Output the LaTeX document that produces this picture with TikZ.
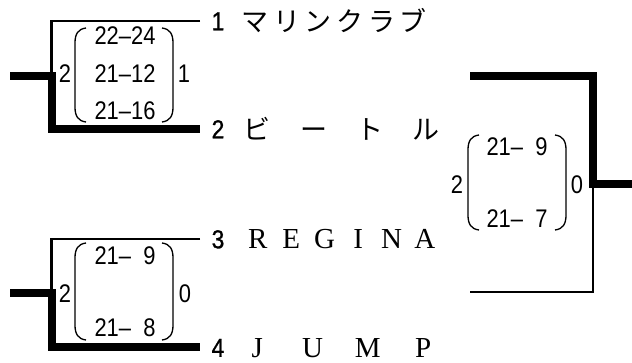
\documentclass[tikz,border=0pt]{standalone}
\usepackage{fontspec}
\newfontfamily\numf[FakeStretch=0.86]{Liberation Sans}
\newfontfamily\labf[FakeStretch=0.88,FakeBold=1]{Liberation Sans}
\newfontfamily\jpf{Noto Sans CJK JP}
\newfontfamily\latf{Liberation Serif}
\newlength\cw
\newcommand\cb[1]{\makebox[\cw][c]{#1}}
\newcommand\parenpair[4]{%
  \draw[paren] (#1+11,#3) .. controls (#1+3,#3+1) and (#1,#3+6) .. (#1,#3+15) -- (#1,#4-15) .. controls (#1,#4-6) and (#1+3,#4-1) .. (#1+11,#4);
  \draw[paren] (#2-11,#3) .. controls (#2-3,#3+1) and (#2,#3+6) .. (#2,#3+15) -- (#2,#4-15) .. controls (#2,#4-6) and (#2-3,#4-1) .. (#2-11,#4);
}
\begin{document}
\begin{tikzpicture}[x=1pt,y=-1pt,
 thinline/.style={line width=2.7pt},
 thickline/.style={line width=8pt},
 paren/.style={line width=1.3pt},
 score/.style={inner sep=0pt, anchor=base, font=\numf\fontsize{25.5}{28}\selectfont},
 seed/.style={inner sep=0pt, anchor=base, font=\labf\fontsize{26}{28}\selectfont},
 jname/.style={inner sep=0pt, anchor=base west, font=\jpf\fontsize{27}{30}\selectfont},
 lname/.style={inner sep=0pt, anchor=base west, font=\latf\fontsize{29}{32}\selectfont},
]
\useasboundingbox (0,0) rectangle (632,363);

% ---------- coordinates ----------
\coordinate (a1) at (200,21);
\coordinate (a2) at (200,129);
\coordinate (a3) at (200,239);
\coordinate (a4) at (200,347.5);
\coordinate (j1) at (51.5,21);
\coordinate (j2) at (51.5,129);
\coordinate (j3) at (51.5,239);
\coordinate (j4) at (51.5,347.5);
\coordinate (m1) at (51.5,76);
\coordinate (m2) at (51.5,293.5);
\coordinate (in1) at (10,76);
\coordinate (in2) at (10,293.5);
\coordinate (f1) at (470,76);
\coordinate (f2) at (470,292);
\coordinate (fc1) at (593,76);
\coordinate (fc2) at (593,292);
\coordinate (fm) at (593,184);
\coordinate (fo) at (632,184);

% ---------- bracket lines ----------
\draw[thinline] (a1) -- (j1) -- (m1);
\draw[thickline, line join=miter] (in1) -- (m1) -- (j2) -- (a2);
\draw[thinline] (a3) -- (j3) -- (m2);
\draw[thickline, line join=miter] (in2) -- (m2) -- (j4) -- (a4);
\draw[thinline] (f2) -- (fc2) -- (fm);
\draw[thickline, line join=miter] (f1) -- (fc1) -- (fm) -- (fo);

% ---------- parentheses ----------
\parenpair{75}{173}{28}{122}
\parenpair{75}{173}{243}{340}
\parenpair{468}{566}{135}{230}

% ---------- scores ----------
\node[score] (s11) at (125,45) {22–24};
\node[score] (s12) at (125,82.5) {21–12};
\node[score] (s13) at (125,119.5) {21–16};
\node[score] (w1) at (65,83) {2};
\node[score] (l1) at (184,83) {1};

\node[score] (s21) at (125,264.5) {21–\phantom{2}9};
\node[score] (s22) at (125,337) {21–\phantom{2}8};
\node[score] (w2) at (65,303) {2};
\node[score] (l2) at (185,303) {0};

\node[score] (s31) at (517,156) {21–\phantom{2}9};
\node[score] (s32) at (517,228) {21–\phantom{2}7};
\node[score] (w3) at (457,193.5) {2};
\node[score] (l3) at (577,193.5) {0};

% ---------- seeds ----------
\node[seed] (n1) at (218,30.3) {1};
\node[seed] (n2) at (218,138.3) {2};
\node[seed] (n3) at (218,248.3) {3};
\node[seed] (n4) at (218,356.8) {4};

% ---------- team names ----------
\node[jname] (t1) at (239.2,31.3) {\setlength\cw{31.6pt}\cb{マ}\cb{リ}\cb{ン}\cb{ク}\cb{ラ}\cb{ブ}};
\node[jname] (t2) at (228.9,139.3) {\setlength\cw{56.3pt}\cb{ビ}\cb{ー}\cb{ト}\cb{ル}};
\node[lname] (t3) at (241,248.6) {\setlength\cw{33.4pt}\cb{R}\cb{E}\cb{G}\cb{I}\cb{N}\cb{A}};
\node[lname] (t4) at (229.4,357.1) {\setlength\cw{55.3pt}\cb{J}\cb{U}\cb{M}\cb{P}};
\end{tikzpicture}
\end{document}
